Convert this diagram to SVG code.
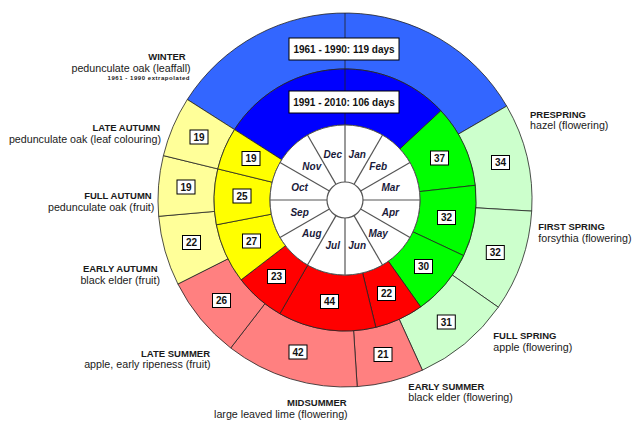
<svg xmlns="http://www.w3.org/2000/svg" width="633" height="424" viewBox="0 0 633 424">
<style>
.sec{stroke:#222;stroke-width:0.8;stroke-linejoin:round}
.w1{fill:#3366FF}.w2{fill:#0000FF}
.sp1{fill:#CCFFCC}.sp2{fill:#00FF00}
.su1{fill:#FF8080}.su2{fill:#FF0000}
.au1{fill:#FFFF99}.au2{fill:#FFFF00}
.box{fill:#fff;stroke:#000;stroke-width:1}
.num{font-family:"Liberation Sans",Arial,sans-serif;font-weight:bold;font-size:10px;fill:#111;text-anchor:middle}
.big{font-family:"Liberation Sans",Arial,sans-serif;font-weight:bold;font-size:10px;fill:#111;text-anchor:middle}
.mon{font-family:"Liberation Sans",Arial,sans-serif;font-weight:bold;font-style:italic;font-size:10px;fill:#1a1a3a;text-anchor:middle}
.div{stroke:#555;stroke-width:1.2}
.ttl{font-family:"Liberation Sans",Arial,sans-serif;font-weight:bold;font-size:9.5px;fill:#1a1a1a}
.pl{font-family:"Liberation Sans",Arial,sans-serif;font-size:10.7px;fill:#1a1a1a}
.sm{font-family:"Liberation Sans",Arial,sans-serif;font-weight:bold;font-size:6px;fill:#1a1a1a}
.e{text-anchor:end}
</style>

<!-- outer ring 1961-1990 / inner ring 1991-2010 -->
<g id="winter">
<path class="sec w1" d="M187.3,99.5 A187,187 0 0 1 506.7,106.1 L458.3,134.2 A131,131 0 0 0 234.5,129.6 Z"/>
<path class="sec w2" d="M234.5,129.6 A131,131 0 0 1 440.9,110.8 L399.9,148.9 A75,75 0 0 0 281.7,159.7 Z"/>
<line class="sec" x1="345" y1="13" x2="345" y2="125"/>
<rect class="box" x="289" y="38" width="110" height="22"/>
<text class="big" x="344" y="53">1961 - 1990: 119 days</text>
<rect class="box" x="289" y="91" width="110" height="22"/>
<text class="big" x="344" y="105.5">1991 - 2010: 106 days</text>
</g>

<g id="prespring">
<path class="sec sp1" d="M506.7,106.1 A187,187 0 0 1 531.7,211.1 L475.8,207.8 A131,131 0 0 0 458.3,134.2 Z"/>
<path class="sec sp2" d="M440.9,110.8 A131,131 0 0 1 475.2,185.3 L419.5,191.6 A75,75 0 0 0 399.9,148.9 Z"/>
<rect class="box" x="491.5" y="155.5" width="18" height="14"/><text class="num" x="500.5" y="166">34</text>
<rect class="box" x="430.5" y="151" width="18" height="14"/><text class="num" x="439.5" y="161.5">37</text>
</g>

<g id="firstspring">
<path class="sec sp1" d="M531.7,211.1 A187,187 0 0 1 498.3,307.2 L452.4,275.1 A131,131 0 0 0 475.8,207.8 Z"/>
<path class="sec sp2" d="M475.2,185.3 A131,131 0 0 1 463.6,255.6 L412.9,231.8 A75,75 0 0 0 419.5,191.6 Z"/>
<rect class="box" x="486.3" y="245.5" width="18" height="14"/><text class="num" x="495.3" y="256">32</text>
<rect class="box" x="437.5" y="210.5" width="18" height="14"/><text class="num" x="446.5" y="221">32</text>
</g>

<g id="fullspring">
<path class="sec sp1" d="M498.3,307.2 A187,187 0 0 1 422.4,370.2 L399.2,319.2 A131,131 0 0 0 452.4,275.1 Z"/>
<path class="sec sp2" d="M463.6,255.6 A131,131 0 0 1 420.7,306.9 L388.3,261.2 A75,75 0 0 0 412.9,231.8 Z"/>
<rect class="box" x="437.3" y="315" width="18" height="14"/><text class="num" x="446.3" y="325.5">31</text>
<rect class="box" x="414.5" y="259.5" width="18" height="14"/><text class="num" x="423.5" y="270">30</text>
</g>

<g id="earlysummer">
<path class="sec su1" d="M422.4,370.2 A187,187 0 0 1 357.2,386.6 L353.6,330.7 A131,131 0 0 0 399.2,319.2 Z"/>
<path class="sec su2" d="M420.7,306.9 A131,131 0 0 1 375.8,327.3 L362.6,272.9 A75,75 0 0 0 388.3,261.2 Z"/>
<rect class="box" x="374" y="347.5" width="18" height="14"/><text class="num" x="383" y="358">21</text>
<rect class="box" x="377.5" y="286.5" width="18" height="14"/><text class="num" x="386.5" y="297">22</text>
</g>

<g id="midsummer">
<path class="sec su1" d="M357.2,386.6 A187,187 0 0 1 230.7,348.0 L264.9,303.7 A131,131 0 0 0 353.6,330.7 Z"/>
<path class="sec su2" d="M375.8,327.3 A131,131 0 0 1 279.9,313.7 L307.7,265.1 A75,75 0 0 0 362.6,272.9 Z"/>
<rect class="box" x="289" y="345" width="18" height="14"/><text class="num" x="298" y="355.5">42</text>
<rect class="box" x="320.5" y="294.5" width="18" height="14"/><text class="num" x="329.5" y="305">44</text>
</g>

<g id="latesummer">
<path class="sec su1" d="M230.7,348.0 A187,187 0 0 1 177.9,284.0 L228.0,258.8 A131,131 0 0 0 264.9,303.7 Z"/>
<path class="sec su2" d="M279.9,313.7 A131,131 0 0 1 241.1,279.8 L285.5,245.7 A75,75 0 0 0 307.7,265.1 Z"/>
<rect class="box" x="212.5" y="293.5" width="18" height="14"/><text class="num" x="221.5" y="304">26</text>
<rect class="box" x="267.5" y="269.5" width="18" height="14"/><text class="num" x="276.5" y="280">23</text>
</g>

<g id="earlyautumn">
<path class="sec au1" d="M177.9,284.0 A187,187 0 0 1 158.7,216.3 L214.5,211.4 A131,131 0 0 0 228.0,258.8 Z"/>
<path class="sec au2" d="M241.1,279.8 A131,131 0 0 1 216.4,224.8 L271.3,214.2 A75,75 0 0 0 285.5,245.7 Z"/>
<rect class="box" x="182.5" y="235.5" width="18" height="14"/><text class="num" x="191.5" y="246">22</text>
<rect class="box" x="242.5" y="234" width="18" height="14"/><text class="num" x="251.5" y="244.5">27</text>
</g>

<g id="fullautumn">
<path class="sec au1" d="M158.7,216.3 A187,187 0 0 1 163.4,155.6 L217.8,168.9 A131,131 0 0 0 214.5,211.4 Z"/>
<path class="sec au2" d="M216.4,224.8 A131,131 0 0 1 217.8,168.9 L272.2,182.2 A75,75 0 0 0 271.3,214.2 Z"/>
<rect class="box" x="177" y="180" width="18" height="14"/><text class="num" x="186" y="190.5">19</text>
<rect class="box" x="233" y="189" width="18" height="14"/><text class="num" x="242" y="199.5">25</text>
</g>

<g id="lateautumn">
<path class="sec au1" d="M163.4,155.6 A187,187 0 0 1 187.3,99.5 L234.5,129.6 A131,131 0 0 0 217.8,168.9 Z"/>
<path class="sec au2" d="M217.8,168.9 A131,131 0 0 1 234.5,129.6 L281.7,159.7 A75,75 0 0 0 272.2,182.2 Z"/>
<rect class="box" x="190" y="130" width="18" height="14"/><text class="num" x="199" y="140.5">19</text>
<rect class="box" x="242" y="151.5" width="18" height="14"/><text class="num" x="251" y="162">19</text>
</g>

<!-- month ring -->
<g id="months">
<circle cx="345" cy="200" r="75" fill="#fff" stroke="#555" stroke-width="1"/>
<g id="month-dividers">
<line class="div" x1="345" y1="182" x2="345" y2="125"/>
<line class="div" x1="354" y1="184.4" x2="382.5" y2="135"/>
<line class="div" x1="360.6" y1="191" x2="410" y2="162.5"/>
<line class="div" x1="363" y1="200" x2="420" y2="200"/>
<line class="div" x1="360.6" y1="209" x2="410" y2="237.5"/>
<line class="div" x1="354" y1="215.6" x2="382.5" y2="265"/>
<line class="div" x1="345" y1="218" x2="345" y2="275"/>
<line class="div" x1="336" y1="215.6" x2="307.5" y2="265"/>
<line class="div" x1="329.4" y1="209" x2="280" y2="237.5"/>
<line class="div" x1="327" y1="200" x2="270" y2="200"/>
<line class="div" x1="329.4" y1="191" x2="280" y2="162.5"/>
<line class="div" x1="336" y1="184.4" x2="307.5" y2="135"/>
</g>
<circle cx="345" cy="200" r="18" fill="#fff" stroke="#555" stroke-width="1.2"/>
<text class="mon" x="357.2" y="158.1">Jan</text>
<text class="mon" x="378.2" y="170.3">Feb</text>
<text class="mon" x="390.4" y="191.3">Mar</text>
<text class="mon" x="390.4" y="215.7">Apr</text>
<text class="mon" x="378.2" y="236.7">May</text>
<text class="mon" x="357.2" y="248.9">Jun</text>
<text class="mon" x="332.8" y="248.9">Jul</text>
<text class="mon" x="311.8" y="236.7">Aug</text>
<text class="mon" x="299.6" y="215.7">Sep</text>
<text class="mon" x="299.6" y="191.3">Oct</text>
<text class="mon" x="311.8" y="170.3">Nov</text>
<text class="mon" x="332.8" y="158.1">Dec</text>
</g>

<!-- season labels -->
<g id="label-winter">
<text class="ttl e" x="185.7" y="60.4">WINTER</text>
<text class="pl e" x="190.7" y="72.3">pedunculate oak (leaffall)</text>
<text class="sm e" x="189.5" y="80.4" textLength="82" lengthAdjust="spacing">1961 - 1990 extrapolated</text>
</g>
<g id="label-lateautumn">
<text class="ttl e" x="160" y="131">LATE AUTUMN</text>
<text class="pl e" x="161" y="142.8">pedunculate oak (leaf colouring)</text>
</g>
<g id="label-fullautumn">
<text class="ttl e" x="151.7" y="199.2">FULL AUTUMN</text>
<text class="pl e" x="154.3" y="211">pedunculate oak (fruit)</text>
</g>
<g id="label-earlyautumn">
<text class="ttl e" x="157.5" y="272.2">EARLY AUTUMN</text>
<text class="pl e" x="160" y="284">black elder (fruit)</text>
</g>
<g id="label-latesummer">
<text class="ttl e" x="210" y="356.6">LATE SUMMER</text>
<text class="pl e" x="210.7" y="368.4">apple, early ripeness (fruit)</text>
</g>
<g id="label-midsummer">
<text class="ttl e" x="346.7" y="406">MIDSUMMER</text>
<text class="pl e" x="347.7" y="417.8">large leaved lime (flowering)</text>
</g>
<g id="label-prespring">
<text class="ttl" x="530" y="117.6">PRESPRING</text>
<text class="pl" x="530" y="129.4">hazel (flowering)</text>
</g>
<g id="label-firstspring">
<text class="ttl" x="538.3" y="230">FIRST SPRING</text>
<text class="pl" x="538.3" y="241.8">forsythia (flowering)</text>
</g>
<g id="label-fullspring">
<text class="ttl" x="493.3" y="338.8">FULL SPRING</text>
<text class="pl" x="493.3" y="350.6">apple (flowering)</text>
</g>
<g id="label-earlysummer">
<text class="ttl" x="408.3" y="389.6">EARLY SUMMER</text>
<text class="pl" x="408.3" y="401.4">black elder (flowering)</text>
</g>
</svg>
